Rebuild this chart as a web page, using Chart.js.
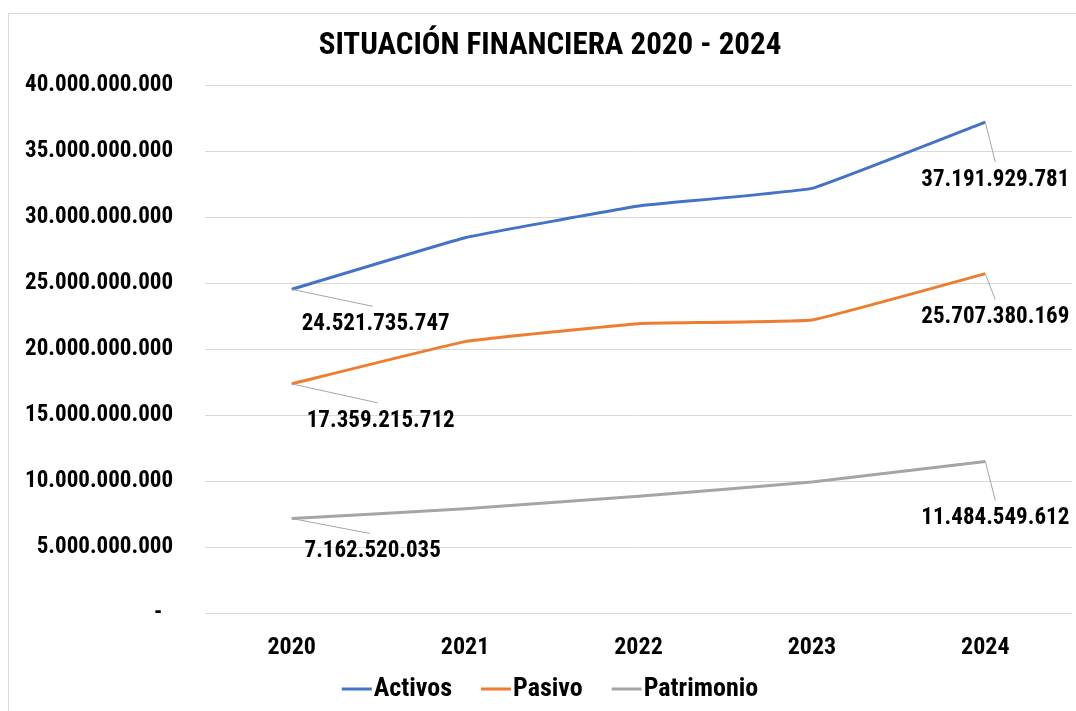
<!DOCTYPE html>
<html>
<head>
<meta charset="utf-8">
<script src="https://cdn.jsdelivr.net/npm/chart.js@4.4.1/dist/chart.umd.min.js"></script>
<style>
  html, body { margin: 0; padding: 0; background: #fff; overflow: hidden; width: 1076px; height: 711px; }
  #wrap { position: absolute; left: 8px; top: 13px; width: 1082px; height: 710px; border: 1px solid #d9d9d9; box-sizing: border-box; }
  #box { position: absolute; left: 0px; top: 0px; width: 1082px; height: 697px; }
</style>
</head>
<body>
<div id="wrap"><div id="box"><canvas id="c"></canvas></div></div>
<script>
const FONT = '"Liberation Sans Narrow", "Arial Narrow", "Roboto Condensed", Roboto, "DejaVu Sans Condensed", Arial, sans-serif';
const chartTitle = 'SITUACIÓN FINANCIERA 2020 - 2024';
const years = ['2020', '2021', '2022', '2023', '2024'];
const activos = [24521735747, 28430000000, 30830000000, 32170000000, 37191929781];
const pasivo = [17359215712, 20560000000, 21920000000, 22200000000, 25707380169];
const patrimonio = [7162520035, 7900000000, 8850000000, 9930000000, 11484549612];
const seriesNames = ['Activos', 'Pasivo', 'Patrimonio'];
const yTicks = [0, 5000000000, 10000000000, 15000000000, 20000000000, 25000000000, 30000000000, 35000000000, 40000000000];

function fmt(v) {
  if (v === 0) return '-  ';
  return Math.round(v).toString().replace(/\B(?=(\d{3})+(?!\d))/g, '.');
}

// label offsets (pixels) for first/last points: [dx, dy] of label centre
const labelOffsets = [
  { first: [84, 35], last: [10, 58] },
  { first: [89, 37], last: [10, 44] },
  { first: [81, 33], last: [10, 57] }
];

const dataLabels = {
  id: 'dataLabels',
  afterDatasetsDraw(chart) {
    const ctx = chart.ctx;
    ctx.save();
    ctx.font = 'bold 23px ' + FONT;
    ctx.fillStyle = '#000';
    ctx.textAlign = 'center';
    ctx.textBaseline = 'middle';
    chart.data.datasets.forEach((ds, i) => {
      const meta = chart.getDatasetMeta(i);
      const n = ds.data.length;
      [[0, 'first'], [n - 1, 'last']].forEach(([idx, key]) => {
        const pt = meta.data[idx];
        const off = labelOffsets[i][key];
        const lx = pt.x + off[0], ly = pt.y + off[1];
        ctx.strokeStyle = '#a6a6a6';
        ctx.lineWidth = 1;
        ctx.beginPath();
        ctx.moveTo(pt.x, pt.y);
        const ex = key === 'first' ? lx - 3 : lx;
        const ey = ly - 18;
        ctx.lineTo(ex, ey);
        ctx.stroke();
        ctx.fillText(fmt(ds.data[idx]), lx, ly);
      });
    });
    ctx.restore();
  }
};

const titleAndLegend = {
  id: 'titleAndLegend',
  afterDraw(chart) {
    const ctx = chart.ctx;
    ctx.save();
    ctx.font = 'bold 31px ' + FONT;
    ctx.fillStyle = '#000';
    ctx.textAlign = 'center';
    ctx.textBaseline = 'middle';
    ctx.fillText(chartTitle, chart.width / 2, 32);
    ctx.font = 'bold 26px ' + FONT;
    ctx.textAlign = 'left';
    const lineW = 30, gapTxt = 2, gapItem = 29;
    const items = chart.data.datasets.map(d => ({ label: d.label, color: d.borderColor, w: ctx.measureText(d.label).width }));
    const total = items.reduce((s, it) => s + lineW + gapTxt + it.w, 0) + gapItem * (items.length - 1);
    let x = chart.width / 2 - total / 2;
    const y = 675;
    items.forEach(it => {
      ctx.strokeStyle = it.color;
      ctx.lineWidth = 3;
      ctx.beginPath();
      ctx.moveTo(x, y);
      ctx.lineTo(x + lineW, y);
      ctx.stroke();
      ctx.fillStyle = '#000';
      ctx.fillText(it.label, x + lineW + gapTxt, y);
      x += lineW + gapTxt + it.w + gapItem;
    });
    ctx.restore();
  }
};

const colors = ['#4472C4', '#ED7D31', '#A5A5A5'];
const seriesData = [activos, pasivo, patrimonio];

new Chart(document.getElementById('c'), {
  type: 'line',
  data: {
    labels: years,
    datasets: seriesData.map((d, i) => ({
      label: seriesNames[i],
      data: d,
      borderColor: colors[i],
      backgroundColor: colors[i],
      borderWidth: 3,
      pointRadius: 0,
      tension: 0.08,
      fill: false
    }))
  },
  options: {
    responsive: true,
    maintainAspectRatio: false,
    animation: false,
    layout: { padding: { top: 71, right: 19, bottom: 50, left: 0 } },
    plugins: {
      legend: { display: false },
      tooltip: { enabled: false },
      title: { display: false }
    },
    scales: {
      x: {
        offset: true,
        grid: { display: false, drawTicks: false },
        border: { display: false },
        ticks: { color: '#000', font: { family: FONT, size: 24, weight: 'bold' }, padding: 21, maxRotation: 0 },
        afterFit(s) { s.height = 48; }
      },
      y: {
        min: 0,
        max: 40000000000,
        afterBuildTicks(s) { s.ticks = yTicks.map(v => ({ value: v })); },
        grid: { color: '#d9d9d9', lineWidth: 1, drawTicks: false },
        border: { display: false },
        ticks: {
          color: '#000',
          font: { family: FONT, size: 23, weight: 'bold' },
          padding: 32,
          callback: v => fmt(v)
        },
        afterFit(s) { s.width = 196; }
      }
    }
  },
  plugins: [dataLabels, titleAndLegend]
});
</script>
</body>
</html>
